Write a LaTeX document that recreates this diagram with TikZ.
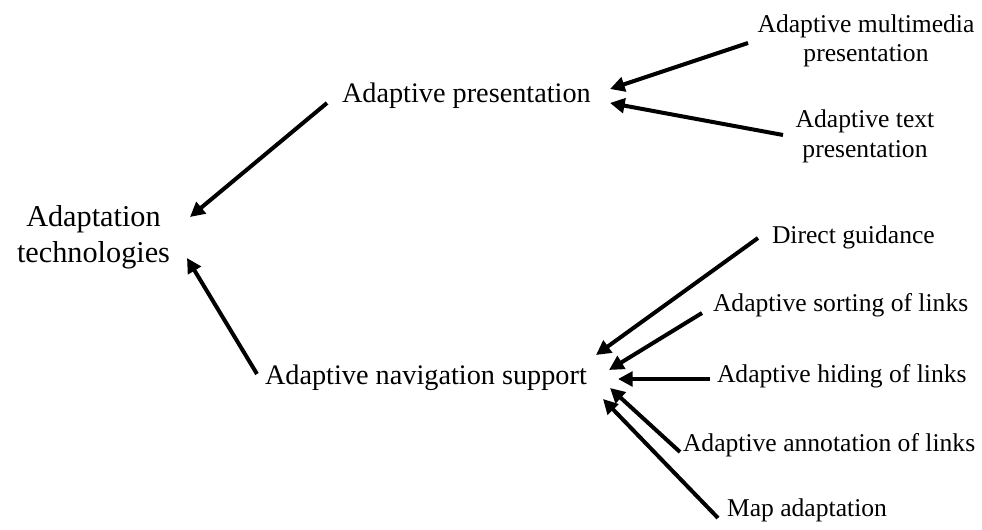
\documentclass[tikz,border=0pt]{standalone}
\usepackage{fontspec}
\setmainfont{Liberation Serif}
\usetikzlibrary{arrows.meta}
\begin{document}
\begin{tikzpicture}[x=0.75pt,y=-0.75pt,
  lbl/.style={inner sep=0pt, outer sep=0pt},
  big/.style={lbl, font=\fontsize{22.7pt}{27pt}\selectfont, align=center},
  mid/.style={lbl, font=\fontsize{21.2pt}{25pt}\selectfont, anchor=base west},
  small/.style={lbl, font=\fontsize{19.2pt}{22pt}\selectfont, anchor=base west},
  smallml/.style={lbl, font=\fontsize{19.2pt}{22pt}\selectfont, align=center},
  arr/.style={line width=3pt, -{Triangle[length=11pt,width=11pt]}}]
\useasboundingbox (0,0) rectangle (982,530);

% root and second level
\node[big] (tech) at (93.5,237) {Adaptation\\technologies};
\node[mid] (pres) at (342,103) {Adaptive presentation};
\node[mid] (nav)  at (265,385) {Adaptive navigation support};

% presentation techniques
\node[smallml] (mm)  at (866,41)    {Adaptive multimedia\\presentation};
\node[smallml] (txt) at (865,136.5) {Adaptive text\\presentation};

% navigation support techniques
\node[small] (direct) at (772,244) {Direct guidance};
\node[small] (sort)   at (713,312) {Adaptive sorting of links};
\node[small] (hide)   at (717,383) {Adaptive hiding of links};
\node[small] (annot)  at (683,452) {Adaptive annotation of links};
\node[small] (map)    at (727,517) {Map adaptation};

% connectors
\draw[arr] ([shift={(-15,0)}]pres.base west) -- ([shift={(96.5,-20)}]tech.center);
\draw[arr] ([shift={(-8,-11)}]nav.base west) -- ([shift={(93.5,21)}]tech.center);

\draw[arr] ([shift={(-118,2)}]mm.center) -- ([shift={(268,-14)}]pres.base west);
\draw[arr] ([shift={(-82,-1.5)}]txt.center) -- ([shift={(268,0)}]pres.base west);

\draw[arr] ([shift={(-14,-6)}]direct.base west) -- ([shift={(331,-30)}]nav.base west);
\draw[arr] ([shift={(-11,1)}]sort.base west) -- ([shift={(344,-15)}]nav.base west);
\draw[arr] ([shift={(-7,-4)}]hide.base west) -- ([shift={(353,-6)}]nav.base west);
\draw[arr] ([shift={(-3,0)}]annot.base west) -- ([shift={(345,3)}]nav.base west);
\draw[arr] ([shift={(-9,1)}]map.base west) -- ([shift={(338,14)}]nav.base west);
\end{tikzpicture}
\end{document}
